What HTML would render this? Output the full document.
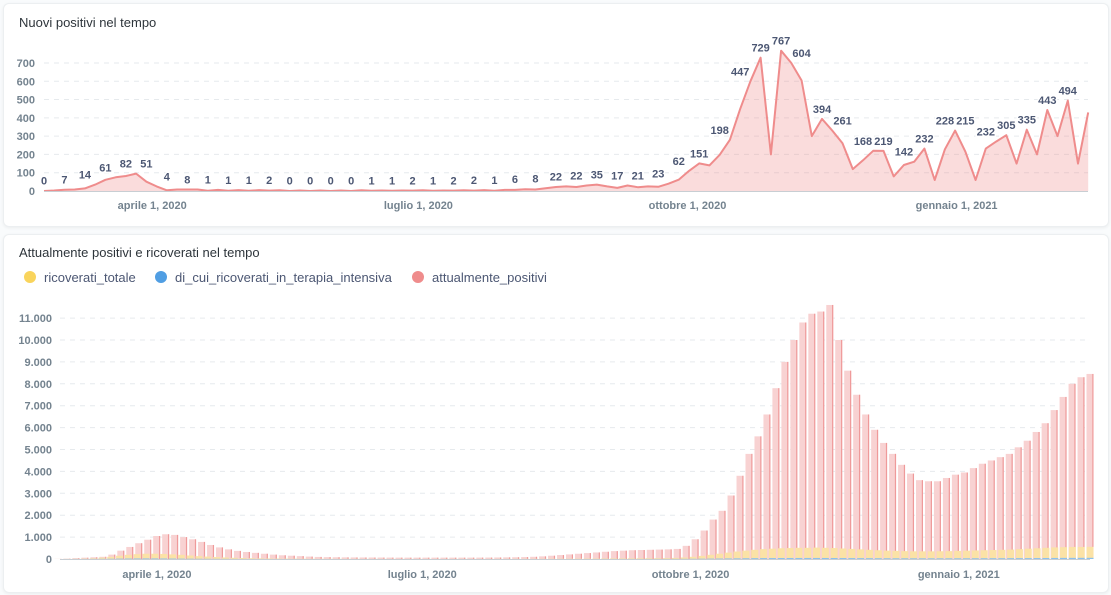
<!DOCTYPE html>
<html><head><meta charset="utf-8">
<style>
body{margin:0;width:1111px;height:595px;background:#f9fbfc;font-family:"Liberation Sans",sans-serif;overflow:hidden;position:relative}
.card{position:absolute;background:#fff;border:1px solid #eceff1;border-radius:6px;box-shadow:0 1px 3px rgba(0,0,0,0.06)}
.title{position:absolute;font-size:13px;color:#2e353b}
svg{position:absolute;left:0;top:0}
</style></head><body>
<div class="card" style="left:3px;top:3px;width:1104px;height:222px"></div>
<div class="card" style="left:3px;top:234px;width:1104px;height:357px"></div>
<div class="title" style="left:19px;top:15px">Nuovi positivi nel tempo</div>
<div class="title" style="left:19px;top:245px">Attualmente positivi e ricoverati nel tempo</div>
<svg id="svg" width="1111" height="595"></svg>
<script>
// ---------- Top chart data (half-week samples from Feb 24, 2020) ----------
const weeklyLabels=[0,7,14,61,82,51,4,8,1,1,1,2,0,0,0,0,1,1,2,1,2,2,1,6,8,22,22,35,17,21,23,62,151,198,447,729,767,604,394,261,168,219,142,232,228,215,232,305,335,443,494];
const midWeek=[3,8,35,75,95,25,8,8,6,5,5,4,3,3,3,4,3,3,4,3,4,5,6,10,15,25,30,25,30,25,40,110,140,280,600,200,700,300,330,120,220,80,160,60,330,60,270,150,200,300,150];
const lastValue=430;
const topTicks=[0,100,200,300,400,500,600,700];
const topXLabels=["aprile 1, 2020","luglio 1, 2020","ottobre 1, 2020","gennaio 1, 2021"];
const xLabelDays=[37,128,220,312];
// ---------- Bottom chart data (evenly spaced samples, Feb 24, 2020 to Feb 15, 2021) ----------
const positivi=[0,5,15,40,60,80,100,200,380,550,720,880,1050,1130,1100,1000,900,780,640,530,440,370,320,280,240,200,170,150,130,110,95,85,80,75,72,70,68,66,64,63,62,62,62,62,62,62,62,63,64,66,70,75,80,88,100,120,150,180,210,240,270,300,330,360,380,400,410,420,430,440,460,600,900,1300,1800,2200,2900,3800,4800,5600,6600,7800,9000,10000,10800,11200,11300,11600,10000,8600,7500,6600,5900,5300,4800,4300,3900,3600,3550,3550,3700,3850,3950,4150,4350,4500,4650,4800,5100,5400,5800,6200,6800,7400,8000,8300,8450];
const ricoverati=[0,1,3,8,15,30,60,100,150,190,220,240,240,230,210,190,160,130,110,90,70,55,45,35,30,25,20,17,15,12,10,9,8,7,6,6,5,5,5,5,5,5,5,5,5,5,5,5,5,5,5,6,6,7,8,9,10,12,14,16,18,20,22,25,28,30,32,34,36,38,40,50,70,100,140,190,240,290,340,380,420,450,470,490,500,510,510,520,510,500,480,460,440,420,400,380,370,360,350,350,350,355,360,370,380,390,400,410,420,430,450,470,490,510,530,540,550,550,555];
const intensiva=[0,0,1,2,3,5,8,12,18,22,25,26,25,23,20,17,14,11,9,7,6,5,4,3,3,2,2,2,2,1,1,1,1,1,1,1,1,1,1,1,1,1,1,1,1,1,1,1,1,1,1,1,1,1,1,1,1,1,2,2,2,2,2,3,3,3,3,3,4,4,4,5,7,10,14,18,22,26,30,34,38,41,43,45,46,47,48,48,47,46,44,42,40,38,36,34,33,32,31,31,31,31,32,33,33,34,35,36,37,38,40,42,44,46,48,50,52,53,54];
const totalDays=357;
const bottomTicks=[0,1000,2000,3000,4000,5000,6000,7000,8000,9000,10000,11000];
const tickText=["0","1.000","2.000","3.000","4.000","5.000","6.000","7.000","8.000","9.000","10.000","11.000"];

const NS="http://www.w3.org/2000/svg";
const svg=document.getElementById('svg');
function mk(tag,attrs,parent){const e=document.createElementNS(NS,tag);for(const k in attrs)e.setAttribute(k,attrs[k]);(parent||svg).appendChild(e);return e;}

// ---------- Top chart ----------
const tx=d=>44+d*2.925;
const ty=v=>191-v*0.1829;
topTicks.forEach(t=>{
  if(t>0){const g=mk('line',{x1:44,x2:1088,y1:ty(t),y2:ty(t),stroke:'#e6eaed','stroke-dasharray':'5,5'});
  
  }
  const l=mk('text',{x:35,y:ty(t)+4,'text-anchor':'end','font-size':'11','font-weight':'bold',fill:'#74838f'});l.textContent=t;
  
  
});
const vals=[];const days=[];
weeklyLabels.forEach((v,i)=>{vals.push(v);days.push(i*7);if(i<midWeek.length){vals.push(midWeek[i]);days.push(i*7+3.5);}});
vals.push(lastValue);days.push(357);
let pts=vals.map((v,i)=>tx(days[i]).toFixed(1)+','+ty(v).toFixed(1));
const area=mk('path',{d:'M'+tx(days[0])+','+ty(0)+' L'+pts.join(' L')+' L'+tx(days[days.length-1])+','+ty(0)+'Z',fill:'rgba(239,140,140,0.3)'});


const line=mk('polyline',{points:pts.join(' '),fill:'none',stroke:'#ef8c8c','stroke-width':'2','stroke-linejoin':'round'});


const ax1=mk('line',{x1:44,x2:1088,y1:191.5,y2:191.5,stroke:'#c8ced3'});


weeklyLabels.forEach((v,i)=>{
  const t=mk('text',{x:tx(i*7),y:ty(Math.max(v,midWeek[i]||0,i>0?midWeek[i-1]:0))-6,'text-anchor':'middle','font-size':'11','font-weight':'bold',fill:'#4c5773',stroke:'#fff','stroke-width':'3','paint-order':'stroke'});
  t.textContent=v;
  
  
});
topXLabels.forEach((s,i)=>{
  const t=mk('text',{x:tx(xLabelDays[i]),y:209,'text-anchor':'middle','font-size':'11','font-weight':'bold',fill:'#74838f'});t.textContent=s;
  
  
});

// ---------- Legend ----------
const legend=[["ricoverati_totale","#f9d45c",30],["di_cui_ricoverati_in_terapia_intensiva","#509ee3",161],["attualmente_positivi","#ef8c8c",418]];
legend.forEach(l=>{
  const c=mk('circle',{cx:l[2],cy:277,r:6,fill:l[1]});
  
  
  const t=mk('text',{x:l[2]+14,y:282,'font-size':'13',fill:'#4c5773'});t.textContent=l[0];
  
  
});

// ---------- Bottom chart ----------
const bx=d=>49+d*2.916;
const by=v=>559-v*0.0219;
bottomTicks.forEach((t,i)=>{
  if(t>0){const g=mk('line',{x1:60,x2:1090,y1:by(t),y2:by(t),stroke:'#e6eaed','stroke-dasharray':'5,5'});
  
  }
  const l=mk('text',{x:52,y:by(t)+4,'text-anchor':'end','font-size':'11','font-weight':'bold',fill:'#74838f'});l.textContent=tickText[i];
  
  
});
const bw=7;
const dayOf=(i,arr)=>i*totalDays/(arr.length-1);
positivi.forEach((v,i)=>{
  const x=bx(dayOf(i,positivi));
  const r=mk('rect',{x:x-bw/2,y:by(v),width:bw,height:Math.max(0,559-by(v)),fill:'#f8d2d2'});
  
  
  const e=mk('rect',{x:x+bw/2-1.2,y:by(v),width:1.2,height:Math.max(0,559-by(v)),fill:'#ef9a9a'});
  
  
});
ricoverati.forEach((v,i)=>{
  const x=bx(dayOf(i,ricoverati));
  const r=mk('rect',{x:x-bw/2,y:by(v),width:bw,height:Math.max(0,559-by(v)),fill:'#fbe2a6'});
  
  
});
intensiva.forEach((v,i)=>{
  const x=bx(dayOf(i,intensiva));
  const r=mk('rect',{x:x-bw/2,y:by(v),width:bw,height:Math.max(0,559-by(v)),fill:'#8cc0ec'});
  
  
});
const ax2=mk('line',{x1:60,x2:1090,y1:559.5,y2:559.5,stroke:'#c8ced3'});


topXLabels.forEach((s,i)=>{
  const t=mk('text',{x:bx(xLabelDays[i]),y:578,'text-anchor':'middle','font-size':'11','font-weight':'bold',fill:'#74838f'});t.textContent=s;
  
  
});
</script>
</body></html>
